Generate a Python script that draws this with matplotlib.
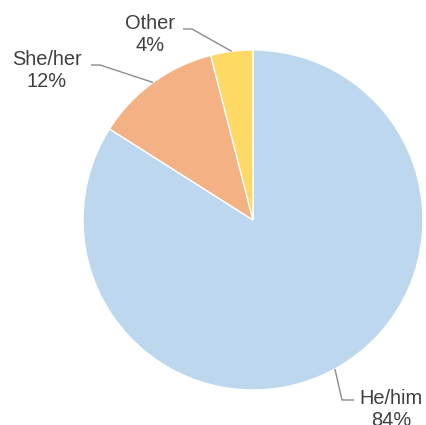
import numpy as np
import matplotlib
matplotlib.use("Agg")
import matplotlib.pyplot as plt

# Pronoun shares (percent)
categories = ["He/him", "She/her", "Other"]
shares = [84, 12, 4]
colors = ["#BDD7EE", "#F4B183", "#FFD966"]

W, H = 426, 425
fig = plt.figure(figsize=(W / 100, H / 100), dpi=100)
ax = fig.add_axes([0, 0, 1, 1])

center = (253, 205)
radius = 170
wedges, _ = ax.pie(shares, colors=colors, startangle=90, counterclock=False,
                   center=center, radius=radius,
                   wedgeprops=dict(edgecolor="white", linewidth=1.0))

# pixel-like data space: one unit per output pixel
ax.set_xlim(0, W)
ax.set_ylim(0, H)
ax.set_aspect("equal")
ax.axis("off")

# label placement: text centre, elbow point, line end near text
layout = {
    "He/him": dict(text=(391, 16), elbow=(342, 25), end=(354, 25)),
    "She/her": dict(text=(47, 355), elbow=(100, 360), end=(91, 360)),
    "Other": dict(text=(150, 391), elbow=(192, 396), end=(183, 396)),
}

line_color = "#8C8C8C"
text_color = "#404040"
for w, cat, val in zip(wedges, categories, shares):
    mid = np.deg2rad((w.theta1 + w.theta2) / 2)
    tip = (center[0] + radius * np.cos(mid), center[1] + radius * np.sin(mid))
    spec = layout[cat]
    ax.plot([tip[0], spec["elbow"][0], spec["end"][0]],
            [tip[1], spec["elbow"][1], spec["end"][1]],
            color=line_color, lw=1.0, solid_capstyle="butt", zorder=3)
    ax.text(spec["text"][0], spec["text"][1], f"{cat}\n{val}%",
            ha="center", va="center", multialignment="center",
            fontsize=14.4, color=text_color, family="Liberation Sans",
            linespacing=1.2)

fig.savefig("out.png", dpi=100)
